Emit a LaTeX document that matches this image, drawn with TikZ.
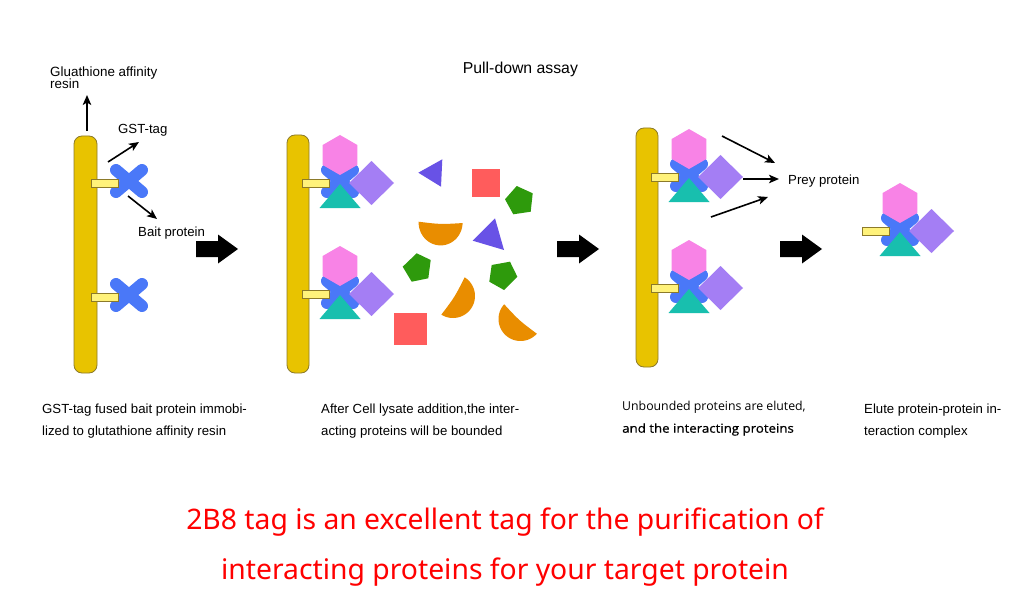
\documentclass[tikz,border=0pt]{standalone}
\usepackage{fontspec}
\setmainfont{Liberation Sans}
\newfontfamily\osans{Open Sans}
\newfontfamily\osanssb[FakeBold=0.6,FakeStretch=1.08]{Open Sans}
\newfontfamily\notos{Noto Sans}
\usetikzlibrary{shapes.geometric,arrows.meta}

\definecolor{gold}{HTML}{E8C300}
\definecolor{goldedge}{HTML}{8C7A2A}
\definecolor{tagy}{HTML}{FFF27A}
\definecolor{xblue}{HTML}{4A78F8}
\definecolor{hexpink}{HTML}{F883E6}
\definecolor{triteal}{HTML}{18BFAE}
\definecolor{diapurp}{HTML}{A47EF4}
\definecolor{sqred}{HTML}{FF5C5C}
\definecolor{pentgreen}{HTML}{2E9A0C}
\definecolor{moonorange}{HTML}{E98D00}
\definecolor{triindigo}{HTML}{6852E6}
\definecolor{redtxt}{HTML}{FF0000}

\tikzset{
  column/.style={fill=gold, draw=goldedge, line width=0.8pt, rounded corners=8pt},
  tagrect/.style={fill=tagy, draw=goldedge, line width=0.6pt},
  xbar/.style={draw=xblue, line width=12pt, line cap=round},
  thinarrow/.style={line width=1.6pt, -{Stealth[length=10pt,width=8.5pt,inset=2.5pt]}},
  lbl/.style={font=\fontsize{13.2}{15}\selectfont, inner sep=0pt, anchor=base west},
  smalllbl/.style={font=\fontsize{13.4}{14}\selectfont, inner sep=0pt, anchor=base west},
  captxt/.style={font=\fontsize{13.2}{15}\selectfont, inner sep=0pt, anchor=base west},
  capos/.style={font=\osans\fontsize{12.3}{15}\selectfont, inner sep=0pt, anchor=base west},
  capossb/.style={font=\osanssb\fontsize{12.3}{15}\selectfont, inner sep=0pt, anchor=base west},
  redline/.style={font=\notos\fontsize{28.3}{32}\selectfont, text=redtxt, inner sep=0pt, anchor=base},
  moon/.style={fill=moonorange},
  pentshape/.style={fill=pentgreen},
  xmol/.pic={
    \draw[xbar] (25,-13) -- (51,9);
    \draw[xbar] (25,9) -- (51,-13);
  },
  gsttag/.pic={\filldraw[tagrect] (0,-4) rectangle (27,4);},
  complexmol/.pic={
    \draw[xbar] (25,-13) -- (51,9);
    \draw[xbar] (25,9) -- (51,-13);
    \fill[hexpink] (38,-48) -- (55.32,-38) -- (55.32,-18) -- (38,-8) -- (20.68,-18) -- (20.68,-38) -- cycle;
    \fill[triteal] (38,1) -- (58.5,25) -- (17.5,25) -- cycle;
    \fill[diapurp] (69.5,-22) -- (92,0) -- (69.5,22) -- (47,0) -- cycle;
    \filldraw[tagrect] (0,-4) rectangle (27,4);
  },
  bigarrow/.pic={\fill[black] (0,-8) -- (22,-8) -- (22,-14.5) -- (42,0) -- (22,14.5) -- (22,8) -- (0,8) -- cycle;}
}

\begin{document}
\begin{tikzpicture}[x=1pt,y=-1pt]
\useasboundingbox (0,0) rectangle (1024,604);
\fill[white] (0,0) rectangle (1024,604);

% ---------- title ----------
\node[lbl, font=\fontsize{15.8}{18}\selectfont] (title) at (462.7,73.3) {Pull-down assay};

% ---------- panel 1 ----------
\draw[column] (74,136) rectangle (97,373);
\pic at (91,183) {xmol};
\pic at (91,183) {gsttag};
\pic at (91,297) {xmol};
\pic at (91,297) {gsttag};
\node[smalllbl] (resin1) at (50,77) {Gluathione affinity};
\node[smalllbl] (resin2) at (50,88.5) {resin};
\node[lbl] (gst) at (118,134) {GST-tag};
\node[lbl] (bait) at (138,236.7) {Bait protein};
\coordinate (a1s) at (87,131); \coordinate (a1e) at (87,95);
\coordinate (g1s) at (108,162); \coordinate (g1e) at (139,142);
\coordinate (b1s) at (128,196); \coordinate (b1e) at (157,219);
\draw[thinarrow] (a1s) -- (a1e);
\draw[thinarrow] (g1s) -- (g1e);
\draw[thinarrow] (b1s) -- (b1e);
\pic at (196,249) {bigarrow};

% ---------- panel 2 ----------
\draw[column] (287,135) rectangle (309,373);
\pic at (302,183) {complexmol};
\pic at (302,294) {complexmol};
% scattered proteins
\fill[triindigo] (418.3,172.7) -- (442.3,159.3) -- (441,186.7) -- cycle;
\fill[triindigo] (472.7,240.7) -- (495,218.3) -- (504,250) -- cycle;
\fill[sqred] (472,169) rectangle (500,197);
\fill[sqred] (394,313) rectangle (427,345);
\fill[pentshape] (516.7,186) -- (532.7,193.3) -- (530.7,211.7) -- (513.3,214.3) -- (505,199.3) -- cycle;
\fill[pentshape] (416.7,253.3) -- (430.7,260) -- (428.3,278.3) -- (411.7,281.7) -- (402.7,266.7) -- cycle;
\fill[pentshape] (491.7,265) -- (510,261.7) -- (517.3,276.7) -- (504,290) -- (489.3,281.7) -- cycle;
\fill[moon] plot[domain=1.7:181.7, samples=40] ({440.6+22*cos(\x)},{222.4+23*sin(\x)})
   .. controls ({440.6+2*cos(91.7)},{222.4+2*sin(91.7)}) .. ({440.6+22*cos(1.7)},{222.4+22*sin(1.7)}) -- cycle;
\fill[moon] plot[domain=-58:122, samples=40] ({453+22*cos(\x)},{296+22*sin(\x)})
   .. controls ({453+2*cos(32)},{296+2*sin(32)}) .. ({453+22*cos(-58)},{296+22*sin(-58)}) -- cycle;
\fill[moon] plot[domain=42:222, samples=40] ({520.5+22*cos(\x)},{319+22*sin(\x)})
   .. controls ({520.5+2*cos(132)},{319+2*sin(132)}) .. ({520.5+22*cos(42)},{319+22*sin(42)}) -- cycle;
\pic at (557,249) {bigarrow};

% ---------- panel 3 ----------
\draw[column] (636,128) rectangle (658,367);
\pic at (651,177) {complexmol};
\pic at (651,288) {complexmol};
\node[lbl] (prey) at (788,184) {Prey protein};
\coordinate (q1s) at (722,136); \coordinate (q1e) at (775,163);
\coordinate (q2s) at (743,179); \coordinate (q2e) at (779,179);
\coordinate (q3s) at (711,217); \coordinate (q3e) at (768,197);
\draw[thinarrow] (q1s) -- (q1e);
\draw[thinarrow] (q2s) -- (q2e);
\draw[thinarrow] (q3s) -- (q3e);
\pic at (780,249) {bigarrow};

% ---------- panel 4 ----------
\pic at (862,231) {complexmol};

% ---------- captions ----------
\node[captxt] (c1a) at (42,413) {GST-tag fused bait protein immobi-};
\node[captxt] (c1b) at (42,435) {lized to glutathione affinity resin};
\node[captxt] (c2a) at (321,413) {After Cell lysate addition,the inter-};
\node[captxt] (c2b) at (321,435) {acting proteins will be bounded};
\node[capos] (c3a) at (622,410) {Unbounded proteins are eluted,};
\node[capossb] (c3b) at (622,432.7) {and the interacting proteins};
\node[captxt] (c4a) at (864,413) {Elute protein-protein in-};
\node[captxt] (c4b) at (864,435) {teraction complex};

% ---------- red statement ----------
\node[redline] (r1) at (505,529) {2B8 tag is an excellent tag for the purification of};
\node[redline] (r2) at (505,579.5) {interacting proteins for your target protein};
\end{tikzpicture}
\end{document}
